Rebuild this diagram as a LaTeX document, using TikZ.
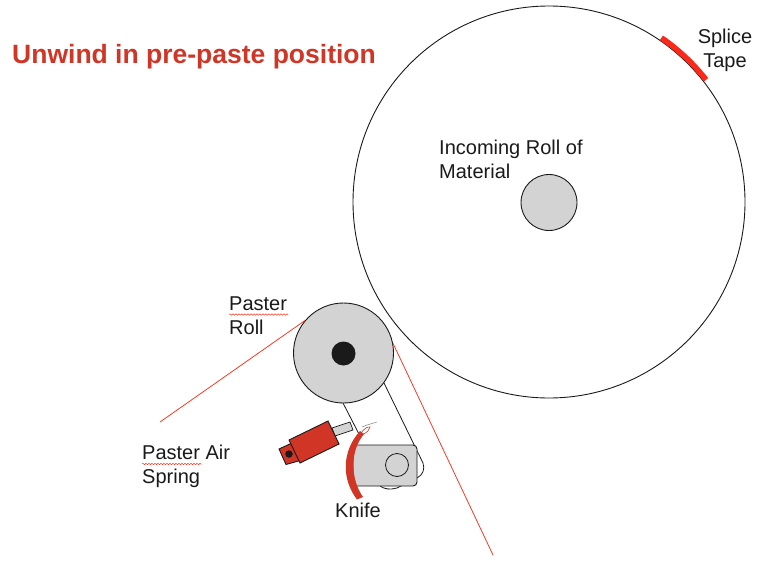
\documentclass[tikz,border=0pt]{standalone}
\usepackage{fontspec}
\setmainfont{Liberation Sans}
\usetikzlibrary{decorations.pathmorphing}
\definecolor{rust}{HTML}{D03525}
\definecolor{leader}{HTML}{FB3A26}
\definecolor{partgray}{HTML}{D3D3D3}
\definecolor{ink}{HTML}{1A1A1A}
\tikzset{
  x=1pt,y=-1pt,
  part/.style={draw=ink,line width=0.9pt,fill=partgray},
  outline/.style={draw=ink,line width=0.8pt},
  redpart/.style={draw=ink,line width=0.9pt,fill=rust},
  leaderline/.style={draw=leader,line width=0.8pt},
  lbl/.style={inner sep=0pt,font=\fontsize{20}{24}\selectfont,text=ink,align=left},
  lblc/.style={inner sep=0pt,font=\fontsize{20}{24}\selectfont,text=ink,align=center},
  squiggle/.style={draw=leader,line width=0.5pt,decorate,decoration={snake,amplitude=0.7pt,segment length=3pt}}
}
\begin{document}
\begin{tikzpicture}
\useasboundingbox (0,0) rectangle (773,567);
\fill[white] (0,0) rectangle (773,567);
% title
\node[inner sep=0pt,anchor=west,font=\bfseries\fontsize{26.5}{30}\selectfont,text=rust] (title) at (12,56.5) {Unwind in pre-paste position};
% incoming roll
\node[circle,draw=ink,line width=0.9pt,fill=white,minimum size=392pt,inner sep=0pt] (roll) at (549,202) {};
\node[circle,part,minimum size=56pt,inner sep=0pt] (hub) at (549,202.5) {};
\draw[draw=leader!70!red,line width=5.5pt] ([shift={(-55.6:199)}]549,202) coordinate (spliceA)
  arc[start angle=55.6,end angle=37.9,radius=199,y radius=-199] coordinate (spliceB);
% arms
\coordinate (armL1) at (343,403);
\coordinate (armL2) at (361,438);
\draw[outline] (armL1) -- (armL2);
\coordinate (armR1) at (384,383);
\coordinate (armR2) at (423,463);
\draw[outline] (armR1) -- (armR2) .. controls (425,469) and (423,475) .. (417,478)
  -- (397,488) .. controls (390,490) and (384,489) .. (380,486);
% knife holder
\node[part,rounded corners=4pt,minimum width=64pt,minimum height=41pt,inner sep=0pt] (holder) at (385,465.5) {};
\node[circle,outline,fill=partgray,minimum size=23pt,inner sep=0pt] (pivot) at (397,465) {};
% paster roll
\node[circle,part,minimum size=100pt,inner sep=0pt] (paster) at (343.5,353) {};
\node[circle,fill=ink,minimum size=24pt,inner sep=0pt] (axle) at (343.5,353.5) {};
% air spring
\draw[part,line width=0.7pt] (332,428) -- (350,422) -- (353,430) -- (335,436) -- cycle;
\draw[redpart] (279,449) -- (292,443) -- (302,460) -- (286,464.5) -- cycle;
\draw[redpart] (289,440) -- (328,421) -- (339,444) -- (300,463) -- cycle;
\node[circle,fill=ink,minimum size=7.5pt,inner sep=0pt] (sdot) at (289,454) {};
% knife
\draw[draw=ink!55,line width=0.5pt] (362,427) -- (367,425) -- (377,422);
\draw[draw=rust,fill=white,line width=0.6pt] (361,433) .. controls (364,429) and (367,426.5) .. (370,427) .. controls (369,430) and (367,433) .. (364,434) -- cycle;
\fill[rust] (357,499.5) -- (363,497) .. controls (351,480) and (349,452) .. (364,434)
  -- (360,431) .. controls (341,452) and (342,480) .. cycle;
% leaders
\coordinate (lead1) at (160,422);
\coordinate (lead2) at (493,555);
\draw[leaderline] (paster.140) -- (lead1);
\draw[leaderline] (paster.11) -- (lead2);
% labels
\node[lbl,anchor=west] (incoming) at (439,159.5) {Incoming Roll of\\Material};
\node[lblc] (splice) at (725,50) {Splice\\Tape};
\node[lbl,anchor=west] (pasterroll) at (229,316) {Paster\\Roll};
\node[lbl,anchor=west] (airspring) at (142,466) {Paster Air\\Spring};
\node[lblc] (knifelbl) at (358,510) {Knife};
\draw[squiggle] (229,314.5) -- (288,314.5);
\draw[squiggle] (142,464) -- (202,464);
\end{tikzpicture}
\end{document}
